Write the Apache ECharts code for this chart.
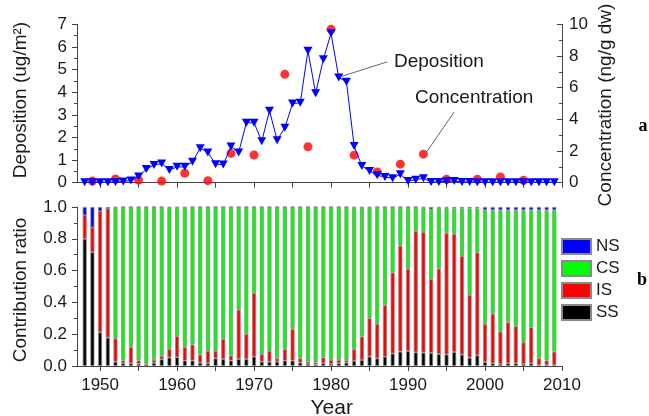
<!DOCTYPE html>
<html><head><meta charset="utf-8">
<script src="https://cdn.jsdelivr.net/npm/echarts@6/dist/echarts.min.js"></script>
<style>html,body{margin:0;padding:0;background:#fff}#c{width:649px;height:416px}</style>
</head><body><div id="c"></div>
<script>
// ---- data ----
const years = [1948,1949,1950,1951,1952,1953,1954,1955,1956,1957,
  1958,1959,1960,1961,1962,1963,1964,1965,1966,1967,
  1968,1969,1970,1971,1972,1973,1974,1975,1976,1977,
  1978,1979,1980,1981,1982,1983,1984,1985,1986,1987,
  1988,1989,1990,1991,1992,1993,1994,1995,1996,1997,
  1998,1999,2000,2001,2002,2003,2004,2005,2006,2007,
  2008,2009];
const deposition = [0.02,0.02,0.02,0.02,0.03,0.05,0.10,0.27,0.60,0.78,
  0.85,0.56,0.70,0.70,0.93,1.52,1.34,0.82,0.80,1.60,
  1.34,2.65,2.65,1.83,3.18,1.88,2.43,3.50,3.53,5.83,
  3.95,5.46,6.60,4.65,4.46,1.62,0.74,0.52,0.33,0.25,
  0.20,0.37,0.07,0.13,0.20,0.03,0.03,0.06,0.07,0.03,
  0.03,0.02,0.02,0.02,0.02,0.02,0.02,0.02,0.02,0.02,
  0.02,0.02];
const concYears = [1949,1952,1955,1958,1961,1964,1967,1970,1974,1977,1980,1983,1986,1989,1992,1995,1999,2002,2005];
const concentration = [0.10,0.23,0.17,0.10,0.60,0.13,1.85,1.75,6.84,2.27,9.68,1.74,0.68,1.17,1.80,0.21,0.21,0.36,0.15];
const ssRatio = [0.800,0.716,0.212,0.178,0.027,0.017,0.017,0.013,0.010,0.020,
  0.042,0.053,0.055,0.034,0.034,0.021,0.017,0.048,0.044,0.034,
  0.044,0.044,0.059,0.027,0.027,0.027,0.034,0.034,0.021,0.013,
  0.010,0.017,0.013,0.017,0.021,0.032,0.038,0.059,0.048,0.059,
  0.078,0.090,0.094,0.086,0.084,0.082,0.075,0.073,0.088,0.071,
  0.052,0.067,0.025,0.017,0.013,0.017,0.017,0.013,0.017,0.006,
  0.006,0.006];
const isRatio = [0.147,0.156,0.761,0.812,0.147,0.017,0.101,0.021,0.005,0.018,
  0.021,0.054,0.132,0.084,0.100,0.050,0.078,0.047,0.126,0.031,
  0.309,0.156,0.399,0.047,0.068,0.021,0.071,0.197,0.027,0.014,
  0.011,0.036,0.025,0.021,0.015,0.073,0.147,0.241,0.217,0.323,
  0.509,0.665,0.516,0.763,0.759,0.465,0.537,0.763,0.742,0.621,
  0.395,0.646,0.239,0.310,0.203,0.258,0.233,0.136,0.225,0.042,
  0.028,0.084];
const csRatio = [0,0,0,0,0.823,0.966,0.882,0.966,0.985,0.962,
  0.937,0.890,0.810,0.879,0.866,0.929,0.905,0.905,0.830,0.935,
  0.647,0.800,0.542,0.926,0.905,0.952,0.895,0.769,0.952,0.973,
  0.979,0.947,0.962,0.962,0.964,0.892,0.812,0.697,0.735,0.618,
  0.413,0.245,0.390,0.151,0.154,0.438,0.383,0.159,0.162,0.300,
  0.545,0.279,0.716,0.653,0.764,0.705,0.730,0.831,0.738,0.932,
  0.946,0.890];
const nsRatio = [0.053,0.128,0.027,0.010,0.003,0,0,0,0,0,
  0,0.003,0.003,0.003,0,0,0,0,0,0,
  0,0,0,0,0,0,0,0,0,0,
  0,0,0,0,0,0.003,0.003,0.003,0,0,
  0,0,0,0,0.003,0.015,0.005,0.005,0.008,0.008,
  0.008,0.008,0.020,0.020,0.020,0.020,0.020,0.020,0.020,0.020,
  0.020,0.020];
const xTickValues = [1950,1955,1960,1965,1970,1975,1980,1985,1990,1995,2000,2005,2010];
const xLabelValues = [1950,1960,1970,1980,1990,2000,2010];
const sourceNames = ['NS','CS','IS','SS'];

// ---- chart ----
const FONT = 'Liberation Sans';
const AX = '#444';
const TXT = '#1a1a1a';
const X_MIN = 1947, X_MAX = 2010;
const PLOT_LEFT = 77, PLOT_W = 485;
const YEAR_PX = PLOT_W / (X_MAX - X_MIN);
const chart = echarts.init(document.getElementById('c'), null, {renderer: 'canvas'});
const pairs = (xs, vs) => xs.map((x, i) => [x, vs[i]]);
const axisLine = {show: true, onZero: false, lineStyle: {color: AX, width: 1}};
const barBorder = {borderColor: '#8a8a8a', borderWidth: 0.8};

// hidden band grid so that each category band is centred on its year of the visible value axis
const bandLeft = PLOT_LEFT + (years[0] - X_MIN - 0.5) * YEAR_PX;
const bandWidth = years.length * YEAR_PX;

function barSeries(name, vals, color) {
  return {
    name, type: 'bar', stack: 'ratio', xAxisIndex: 2, yAxisIndex: 3,
    barWidth: 4, data: vals,
    itemStyle: Object.assign({color}, barBorder)
  };
}

const option = {
  animation: false,
  textStyle: {fontFamily: FONT},
  grid: [
    {left: PLOT_LEFT, top: 24.3, width: PLOT_W, height: 158.4},
    {left: PLOT_LEFT, top: 207, width: PLOT_W, height: 159},
    {left: bandLeft, top: 207, width: bandWidth, height: 159}
  ],
  legend: {
    data: sourceNames, orient: 'vertical', left: 561, top: 238, padding: 0,
    itemWidth: 29, itemHeight: 15, itemGap: 5, icon: 'rect', selectedMode: false,
    textStyle: {fontFamily: FONT, fontSize: 17, color: TXT}
  },
  xAxis: [
    {gridIndex: 0, type: 'value', min: X_MIN, max: X_MAX, axisLine,
     axisTick: {show: true, customValues: xTickValues, length: 5, lineStyle: {color: AX}},
     axisLabel: {show: false}, splitLine: {show: false}},
    {gridIndex: 1, type: 'value', min: X_MIN, max: X_MAX, axisLine,
     axisTick: {show: true, customValues: xTickValues, length: 5, lineStyle: {color: AX}},
     axisLabel: {customValues: xLabelValues, fontSize: 17, margin: 11, color: TXT, fontFamily: FONT,
       formatter: v => String(v)},
     splitLine: {show: false}, z: 5},
    {gridIndex: 2, type: 'category', data: years.map(String), boundaryGap: true, show: false}
  ],
  yAxis: [
    {gridIndex: 0, type: 'value', min: 0, max: 7, interval: 1, position: 'left', axisLine,
     axisTick: {show: true, length: 5, lineStyle: {color: AX}},
     minorTick: {show: true, splitNumber: 2, length: 3, lineStyle: {color: AX}},
     axisLabel: {fontSize: 17, margin: 10, color: TXT, fontFamily: FONT}, splitLine: {show: false}},
    {gridIndex: 0, type: 'value', min: 0, max: 10, interval: 2, position: 'right', axisLine,
     axisTick: {show: true, inside: true, length: 5, lineStyle: {color: AX}},
     minorTick: {show: true, splitNumber: 2, length: 3, lineStyle: {color: AX}},
     axisLabel: {fontSize: 17, margin: 7, color: TXT, fontFamily: FONT}, splitLine: {show: false}},
    {gridIndex: 1, type: 'value', min: 0, max: 1, interval: 0.2, position: 'left', axisLine,
     axisTick: {show: true, length: 5, lineStyle: {color: AX}},
     minorTick: {show: true, splitNumber: 2, length: 3, lineStyle: {color: AX}},
     axisLabel: {fontSize: 17, margin: 10, color: TXT, fontFamily: FONT, formatter: v => v.toFixed(1)},
     splitLine: {show: false}, z: 5},
    {gridIndex: 2, type: 'value', min: 0, max: 1, show: false, splitLine: {show: false}}
  ],
  series: [
    {name: 'Deposition', type: 'line', xAxisIndex: 0, yAxisIndex: 0,
     data: pairs(years, deposition), symbol: 'triangle', symbolRotate: 180, symbolSize: [9, 8],
     showAllSymbol: true, itemStyle: {color: '#0000ff'}, lineStyle: {color: '#0000ff', width: 1},
     markLine: {silent: true, symbol: ['none', 'none'], label: {show: false},
       lineStyle: {color: '#666', width: 1, type: 'solid'},
       data: [[{coord: [1981.2, 4.68]}, {coord: [1987.3, 5.34]}]]}},
    {name: 'Concentration', type: 'scatter', xAxisIndex: 0, yAxisIndex: 1,
     data: pairs(concYears, concentration), symbol: 'circle', symbolSize: 9,
     itemStyle: {color: '#ff0000'},
     markLine: {silent: true, symbol: ['none', 'none'], label: {show: false},
       lineStyle: {color: '#666', width: 1, type: 'solid'},
       data: [[{coord: [1992.4, 1.93]}, {coord: [1996.0, 4.47]}]]}},
    barSeries('SS', ssRatio, '#000000'),
    barSeries('IS', isRatio, '#ff0000'),
    barSeries('CS', csRatio, '#00ff00'),
    barSeries('NS', nsRatio, '#0000ff')
  ],
  graphic: [
    {type: 'text', x: 394, y: 62, style: {text: 'Deposition', font: '19px "Liberation Sans"', fill: TXT, align: 'left', verticalAlign: 'middle'}},
    {type: 'text', x: 415, y: 98, style: {text: 'Concentration', font: '19px "Liberation Sans"', fill: TXT, align: 'left', verticalAlign: 'middle'}},
    {type: 'text', x: 21, y: 100, rotation: Math.PI / 2, style: {text: 'Deposition (ug/m\u00b2)', font: '19px "Liberation Sans"', fill: TXT, align: 'center', verticalAlign: 'middle'}},
    {type: 'text', x: 21, y: 290, rotation: Math.PI / 2, style: {text: 'Contribution ratio', font: '19px "Liberation Sans"', fill: TXT, align: 'center', verticalAlign: 'middle'}},
    {type: 'text', x: 606, y: 105, rotation: Math.PI / 2, style: {text: 'Concentration (ng/g dw)', font: '19px "Liberation Sans"', fill: TXT, align: 'center', verticalAlign: 'middle'}},
    {type: 'text', x: 331.7, y: 408, style: {text: 'Year', font: '21px "Liberation Sans"', fill: TXT, align: 'center', verticalAlign: 'middle'}},
    {type: 'text', x: 643, y: 126, style: {text: 'a', font: 'bold 18px "Liberation Serif"', fill: '#000', align: 'center', verticalAlign: 'middle'}},
    {type: 'text', x: 642, y: 280, style: {text: 'b', font: 'bold 18px "Liberation Serif"', fill: '#000', align: 'center', verticalAlign: 'middle'}}
  ]
};
chart.setOption(option);
</script></body></html>
